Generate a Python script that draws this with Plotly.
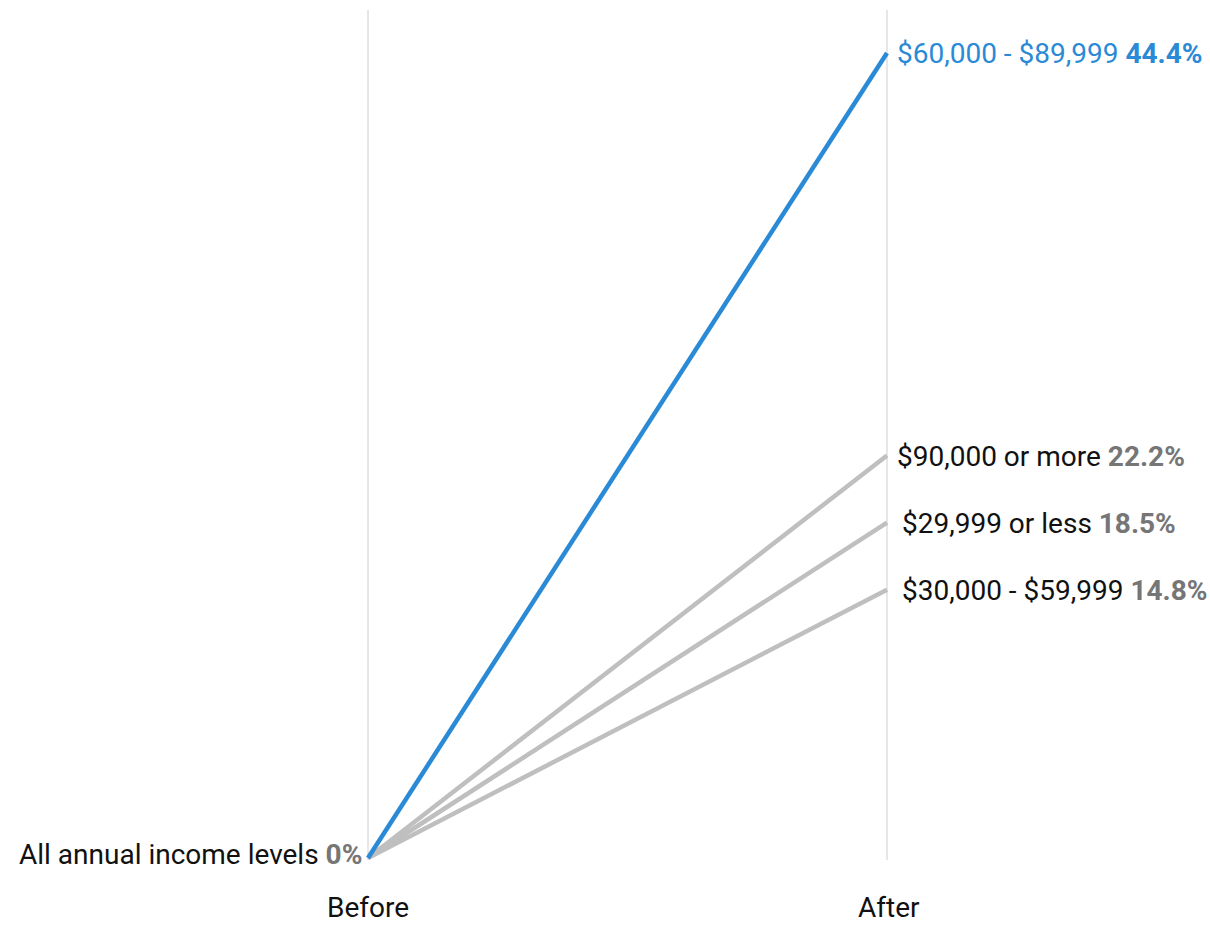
import plotly.graph_objects as go

# Share of respondents by annual income level, before vs after
periods = ["Before", "After"]
groups = ["$60,000 - $89,999", "$90,000 or more", "$29,999 or less", "$30,000 - $59,999"]
before_values = [0, 0, 0, 0]
after_values = [44.4, 22.2, 18.5, 14.8]
start_label = "All annual income levels"
start_value = 0

BLUE = "#2a8ad6"
GRAY_LINE = "#bfbfbf"
GRAY_TEXT = "#767676"
FONT = "Roboto"
SIZE = 28

fig = go.Figure()

# Draw gray lines first, highlighted line on top
order = [1, 2, 3, 0]
for i in order:
    color = BLUE if i == 0 else GRAY_LINE
    fig.add_trace(go.Scatter(
        x=[0, 1], y=[before_values[i], after_values[i]],
        mode="lines", line=dict(color=color, width=4.5),
        hoverinfo="skip", showlegend=False,
    ))

# Vertical guides for each period
for xi in (0, 1):
    fig.add_shape(type="line", x0=xi, x1=xi, y0=-0.11, y1=46.77,
                  line=dict(color="#d9d9d9", width=1.3), layer="below")

annotations = []
# Right-hand labels
shifts = [8, 8, 13, 13]
for i, g in enumerate(groups):
    if i == 0:
        txt = f"{g} <b>{after_values[i]:.1f}%</b>"
        col = BLUE
    else:
        txt = f"{g} <b><span style='color:{GRAY_TEXT}'>{after_values[i]:.1f}%</span></b>"
        col = "#111111"
    annotations.append(dict(
        x=1, y=after_values[i], text=txt, xanchor="left", yanchor="middle",
        xshift=shifts[i], yshift=-1, showarrow=False,
        font=dict(family=FONT, size=SIZE, color=col),
    ))

# Left-hand label
annotations.append(dict(
    x=0, y=start_value,
    text=f"{start_label} <b><span style='color:{GRAY_TEXT}'>{start_value}%</span></b>",
    xanchor="right", yanchor="middle", xshift=-4, yshift=4, showarrow=False,
    font=dict(family=FONT, size=SIZE, color="#111111"),
))

# Period labels under the axis
for xi, p in enumerate(periods):
    annotations.append(dict(
        x=xi, y=-2.72, text=p, xanchor="center", yanchor="middle",
        xshift=2 if xi == 1 else 0, showarrow=False,
        font=dict(family=FONT, size=SIZE, color="#111111"),
    ))

fig.update_layout(
    width=1210, height=925,
    margin=dict(l=0, r=0, t=0, b=0),
    paper_bgcolor="white", plot_bgcolor="white",
    xaxis=dict(range=[-0.7091, 1.6224], visible=False, fixedrange=True),
    yaxis=dict(range=[-3.695, 47.32], visible=False, fixedrange=True),
    annotations=annotations,
    showlegend=False,
)

fig.write_html("out.html")
